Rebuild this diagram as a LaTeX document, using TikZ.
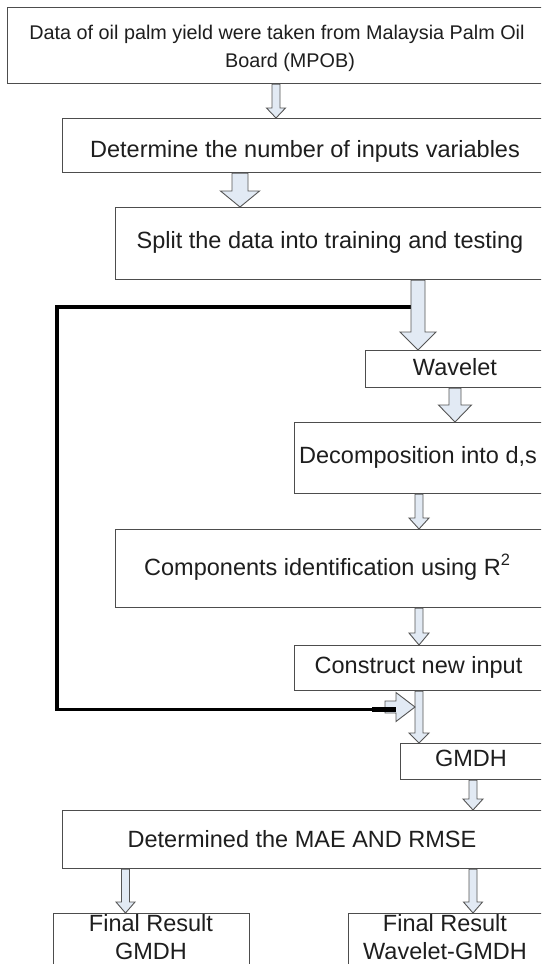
\documentclass[tikz,border=0pt]{standalone}
\usepackage{fontspec}
\setmainfont{Liberation Sans}
\usetikzlibrary{calc}
\definecolor{boxline}{HTML}{4D4D4D}
\definecolor{arrfill}{HTML}{E2EAF4}
\definecolor{arrline}{HTML}{555555}
\definecolor{txt}{HTML}{1E1E1E}
\tikzset{
  box/.style={draw=boxline, line width=1.1pt, anchor=north west, inner sep=0pt, fill=white},
  lbl/.style={text=txt, inner sep=0pt, anchor=base, font=\fontsize{23.5}{28.5}\selectfont},
  lblsmall/.style={lbl, font=\fontsize{19.8}{27.5}\selectfont},
  blockarr/.style={draw=arrline, fill=arrfill, line width=0.9pt, line join=miter},
  fb/.style={draw=black, line width=3.6pt, line join=miter}
}
% vertical block arrow: #1 x, #2 start anchor, #3 end anchor, #4 half shaft, #5 half head, #6 head length
\newcommand\vblock[6]{%
  \filldraw[blockarr] let \p1=(#2), \p2=(#3) in
    (#1pt-#4pt,\y1) -- (#1pt-#4pt,\y2+#6pt) -- (#1pt-#5pt,\y2+#6pt) -- (#1pt,\y2)
    -- (#1pt+#5pt,\y2+#6pt) -- (#1pt+#4pt,\y2+#6pt) -- (#1pt+#4pt,\y1) -- cycle;}
\begin{document}
\begin{tikzpicture}[x=1pt,y=-1pt]
\useasboundingbox (0,0) rectangle (541,964);
\clip (0,0) rectangle (541,964);
\fill[white] (0,0) rectangle (541,964);

% boxes
\node[box, minimum width=600pt, minimum height=76pt] (b1) at (7,7) {};
\node[box, minimum width=600pt, minimum height=54pt] (b2) at (62,118) {};
\node[box, minimum width=600pt, minimum height=72pt] (b3) at (115,207) {};
\node[box, minimum width=600pt, minimum height=37pt] (wav) at (365,350) {};
\node[box, minimum width=600pt, minimum height=71pt] (dec) at (294,422) {};
\node[box, minimum width=600pt, minimum height=78pt] (comp) at (115,529) {};
\node[box, minimum width=600pt, minimum height=45pt] (cons) at (294,645) {};
\node[box, minimum width=600pt, minimum height=36pt] (gmdh) at (400,743) {};
\node[box, minimum width=600pt, minimum height=58pt] (det) at (62,810) {};
\node[box, minimum width=196pt, minimum height=80pt] (f1) at (53,913) {};
\node[box, minimum width=600pt, minimum height=80pt] (f2) at (348,913) {};

% texts
\node[lblsmall] (t1a) at (277,39.5) {Data of oil palm yield were taken from Malaysia Palm Oil};
\node[lblsmall] (t1b) at (290,67) {Board (MPOB)};
\node[lbl] (t2) at (305,157) {Determine the number of inputs variables};
\node[lbl] (t3) at (330,248) {Split the data into training and testing};
\node[lbl] (t4) at (455,375) {Wavelet};
\node[lbl, anchor=base west] (t5) at (299,463.5) {Decomposition into d,s};
\node[lbl, anchor=base west] (t6) at (144,575) {Components identification using R\textsuperscript{2}};
\node[lbl] (t7) at (418.5,673.5) {Construct new input};
\node[lbl] (t8) at (471,766.5) {GMDH};
\node[lbl] (t9) at (302,847.5) {Determined the MAE AND RMSE};
\node[lbl] (t10a) at (151,931) {Final Result};
\node[lbl] (t10b) at (151,959.5) {GMDH};
\node[lbl] (t11a) at (445,931) {Final Result};
\node[lbl] (t11b) at (445,959.5) {Wavelet-GMDH};

% feedback line
\coordinate (fbstart) at (411,307);
\coordinate (fbcorner1) at (57,307);
\coordinate (fbcorner2) at (57,709.5);
\coordinate (fbend) at (396,709.5);
\draw[fb] (fbstart) -- (fbcorner1) -- (fbcorner2) -- (fbend);

% block arrows
\vblock{276}{b1.south}{b2.north}{4}{9.5}{10}
\vblock{240}{b2.south}{b3.north}{8}{19.5}{16}
\vblock{418}{b3.south}{wav.north}{7}{18}{18}
\vblock{455}{wav.south}{dec.north}{6}{16.5}{17}
\vblock{419}{dec.south}{comp.north}{4}{10}{11}
\vblock{419}{comp.south}{cons.north}{4}{10}{12}
\vblock{419}{cons.south}{gmdh.north}{4}{10}{10}
\vblock{473}{gmdh.south}{det.north}{4}{10}{11}
\vblock{125.5}{det.south}{f1.north}{4}{9.5}{11}
\vblock{473}{det.south}{f2.north}{4}{9.5}{11}

% right-pointing block arrow at end of feedback line
\filldraw[blockarr] (385,701) -- (396,701) -- (396,692.5) -- (415,707) -- (396,721.5) -- (396,713) -- (385,713) -- cycle;
\draw[black, line width=4.5pt] (372,709.5) -- (fbend);
\end{tikzpicture}
\end{document}
